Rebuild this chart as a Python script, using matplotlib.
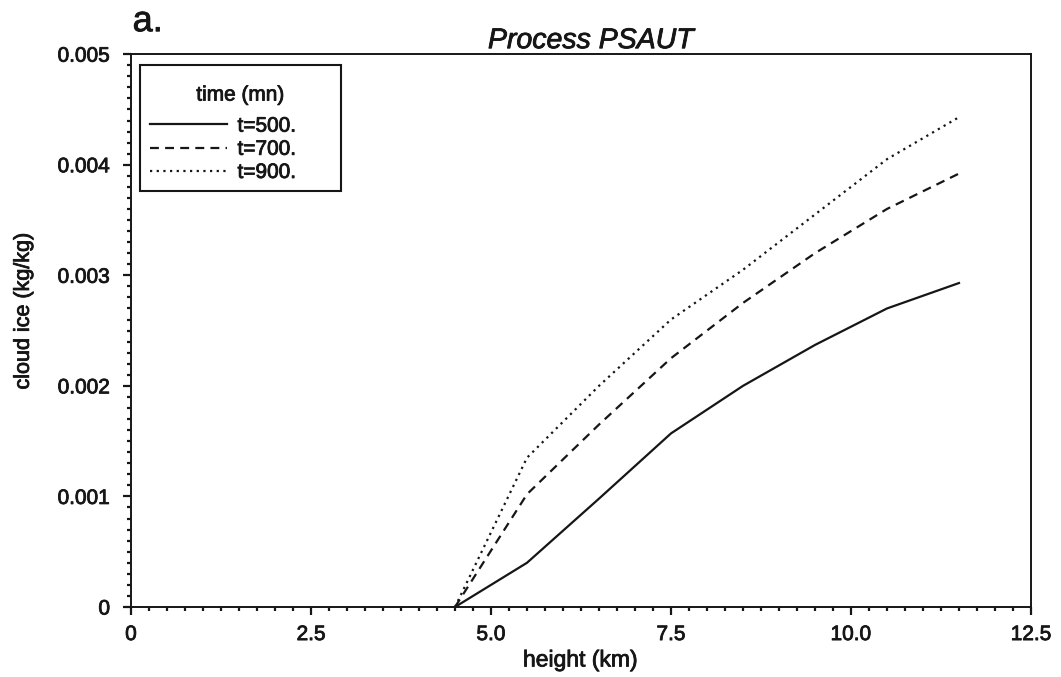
import matplotlib
matplotlib.use("Agg")
import matplotlib.pyplot as plt
import matplotlib.patheffects as pe
from matplotlib.ticker import MultipleLocator, FixedLocator
from matplotlib.patches import Rectangle

plt.rcParams['font.family'] = ['Liberation Sans', 'DejaVu Sans']

# Cloud ice profiles for process PSAUT
height_km = [4.5, 5.5, 6.5, 7.5, 8.5, 9.5, 10.5, 11.5]
ice_t500 = [0.0, 0.00040, 0.00098, 0.00157, 0.00200, 0.00237, 0.00270, 0.00293]
ice_t700 = [0.0, 0.00102, 0.00165, 0.00225, 0.00275, 0.00320, 0.00360, 0.00392]
ice_t900 = [0.0, 0.00135, 0.00200, 0.00260, 0.00305, 0.00355, 0.00405, 0.00443]
series_labels = ['t=500.', 't=700.', 't=900.']

x_ticks = [0, 2.5, 5.0, 7.5, 10.0, 12.5]
x_tick_labels = ['0', '2.5', '5.0', '7.5', '10.0', '12.5']
y_ticks = [0, 0.001, 0.002, 0.003, 0.004, 0.005]
y_tick_labels = ['0', '0.001', '0.002', '0.003', '0.004', '0.005']

ink = '#161616'
heavy = [pe.withStroke(linewidth=0.6, foreground=ink)]

fig = plt.figure(figsize=(10.61, 6.77), dpi=100)
ax = fig.add_axes([0.1235, 0.1034, 0.8482, 0.8166])

ax.plot(height_km, ice_t500, color=ink, lw=1.6, ls='-', label=series_labels[0])
ax.plot(height_km, ice_t700, color=ink, lw=1.6, ls=(0, (4, 2.8)), label=series_labels[1])
ax.plot(height_km, ice_t900, color=ink, lw=1.6, ls=(0, (1, 2.0)), label=series_labels[2])

ax.set_xlim(0, 12.5)
ax.set_ylim(0, 0.005)
ax.xaxis.set_major_locator(FixedLocator(x_ticks))
ax.set_xticklabels(x_tick_labels)
ax.yaxis.set_major_locator(FixedLocator(y_ticks))
ax.set_yticklabels(y_tick_labels)
ax.xaxis.set_minor_locator(MultipleLocator(0.25))
ax.yaxis.set_minor_locator(MultipleLocator(0.0001))

ax.tick_params(which='major', direction='out', length=6, width=1.6, labelsize=15,
               top=False, right=False, colors=ink)
ax.tick_params(axis='y', which='major', pad=9)
ax.tick_params(axis='x', which='major', pad=7)
ax.tick_params(which='minor', direction='out', length=3, width=1.6,
               top=False, right=False, colors=ink)
for s in ax.spines.values():
    s.set_linewidth(1.4)
    s.set_color(ink)
for lab in ax.get_xticklabels() + ax.get_yticklabels():
    lab.set_path_effects(heavy)

ax.set_xlabel('height (km)', fontsize=16.5, color=ink, path_effects=heavy)
ax.xaxis.set_label_coords(0.499, -0.075)
ax.set_ylabel('cloud ice (kg/kg)', fontsize=15.5, color=ink, path_effects=heavy)
ax.yaxis.set_label_coords(-0.108, 0.535)
ax.set_title('Process PSAUT', fontsize=20.5, style='italic', pad=3, x=0.511, color=ink,
             path_effects=heavy)
fig.text(0.125, 0.968, 'a.', fontsize=26, ha='left', va='center', color=ink,
         path_effects=heavy)

# Legend frame and heading
ax.add_patch(Rectangle((0.010, 0.7523), 0.2233, 0.2277, transform=ax.transAxes,
                       fill=False, edgecolor=ink, lw=1.5, zorder=5))
ax.text(0.1217, 0.926, 'time (mn)', transform=ax.transAxes, ha='center', va='center',
        fontsize=15, color=ink, zorder=6, path_effects=heavy)
leg = ax.legend(loc='upper left', bbox_to_anchor=(0.0211, 0.887), fontsize=15,
                frameon=False, handlelength=3.7, handletextpad=0.5,
                borderpad=0, labelspacing=0.2, borderaxespad=0)
for t in leg.get_texts():
    t.set_color(ink)
    t.set_path_effects(heavy)

fig.savefig('out.png', dpi=100)
